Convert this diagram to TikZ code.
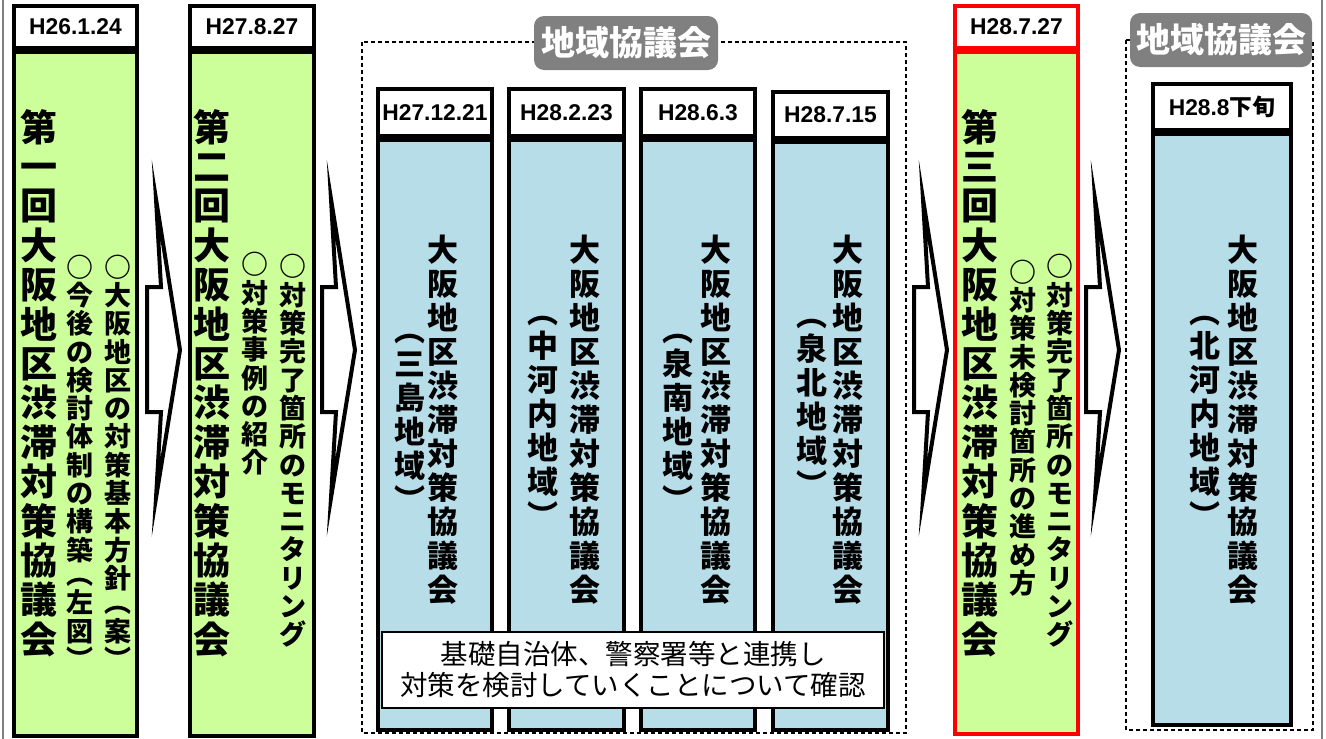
\documentclass[tikz,border=0pt]{standalone}
\usepackage{fontspec}
\setmainfont{Liberation Sans}
\newfontfamily\cjk{Noto Sans CJK JP}
\usetikzlibrary{positioning}

\definecolor{meetgreen}{RGB}{204,255,153}
\definecolor{areablue}{RGB}{183,221,232}
\definecolor{tagray}{RGB}{128,128,128}

% one character per line, for the upright columns
\makeatletter
\newcommand\tate[1]{\tate@a#1\relax}
\def\tate@a#1{#1\tate@b}
\def\tate@b#1{\ifx\relax#1\else\\#1\expandafter\tate@b\fi}
\makeatother

\tikzset{
  datebox/.style={draw, line width=4, fill=white, anchor=north, inner sep=0,
    font=\bfseries\fontsize{22.8}{24}\selectfont},
  greenbody/.style={draw, line width=4, fill=meetgreen, anchor=north},
  bluebody/.style={draw, line width=4, fill=areablue, anchor=north},
  bigtitle/.style={align=center, inner sep=0, font=\cjk\bfseries\fontsize{37}{39.4}\selectfont},
  subcol/.style={align=center, inner sep=0, font=\cjk\bfseries\fontsize{27}{28.3}\selectfont},
  areacol/.style={align=center, inner sep=0, font=\cjk\bfseries\fontsize{31}{34}\selectfont},
  areatag/.style={fill=tagray, rounded corners=10, text=white, inner sep=0,
    minimum height=54, font=\cjk\bfseries\fontsize{34}{36}\selectfont},
  bigarrow/.pic={
    \draw[line width=4, fill=white, miter limit=25] (0,287) -- (14,287) -- (9,199) -- (33,350)
      -- (9,498) -- (14,412) -- (0,412) -- cycle;
  }
}

\begin{document}
\begin{tikzpicture}[x=1pt, y=-1pt]
  \useasboundingbox (0,0) rectangle (1326,739);
  \draw[gray, line width=1.5] (3,0) -- (3,739);
  \draw[gray, line width=1.5] (1322,0) -- (1322,739);

  % the three meetings
  \node[datebox, minimum width=123, minimum height=42] (d1) at (75.5,4) {H26.1.24};
  \node[greenbody, minimum width=123, minimum height=684] (m1) at (d1.south) {};
  \node[datebox, minimum width=124, minimum height=42] (d2) at (252,4) {H27.8.27};
  \node[greenbody, minimum width=124, minimum height=684] (m2) at (d2.south) {};
  \node[datebox, draw=red, minimum width=123, minimum height=42] (d3) at (1016.5,4) {H28.7.27};
  \node[greenbody, draw=red, minimum width=123, minimum height=682] (m3) at (d3.south) {};

  \node[bigtitle] (t1) at (39,383) {\tate{第一回大阪地区渋滞対策協議会}};
  \node[subcol] (s1a) at (118,462) {\tate{○大阪地区の対策基本方針}\\[-4pt]\tate{︵案︶}};
  \node[subcol] (s1b) at (80,462) {\tate{○今後の検討体制の構築}\\[-4pt]\tate{︵左図︶}};
  \node[bigtitle] (t2) at (212,383) {\tate{第二回大阪地区渋滞対策協議会}};
  \node[subcol] (s2a) at (293,451) {\tate{○対策完了箇所のモニタリング}};
  \node[subcol] (s2b) at (255,364) {\tate{○対策事例の紹介}};
  \node[bigtitle] (t3) at (980,383) {\tate{第三回大阪地区渋滞対策協議会}};
  \node[subcol] (s3a) at (1060,451) {\tate{○対策完了箇所のモニタリング}};
  \node[subcol] (s3b) at (1023,428) {\tate{○対策未検討箇所の進め方}};

  % area meetings
  \draw[line width=1.5, dash pattern=on 4 off 3] (362,42) rectangle (906,733);
  \draw[line width=1.5, dash pattern=on 4 off 3] (1126,40) rectangle (1313,730);
  \node[areatag, minimum width=184] (g1) at (626,43) {地域協議会};
  \node[areatag, minimum width=182] (g2) at (1221,40) {地域協議会};

  \node[datebox, minimum width=114, minimum height=47] (da) at (435,87) {H27.12.21};
  \node[bluebody, minimum width=114, minimum height=590] (ma) at (da.south) {};
  \node[datebox, minimum width=115, minimum height=47] (db) at (566.5,87) {H28.2.23};
  \node[bluebody, minimum width=115, minimum height=590] (mb) at (db.south) {};
  \node[datebox, minimum width=114, minimum height=47] (dc) at (698,87) {H28.6.3};
  \node[bluebody, minimum width=114, minimum height=590] (mc) at (dc.south) {};
  \node[datebox, minimum width=115, minimum height=46] (dd) at (830.5,90) {H28.7.15};
  \node[bluebody, minimum width=115, minimum height=588] (md) at (dd.south) {};
  \node[datebox, minimum width=138, minimum height=46] (de) at (1222,82) {H28.8{\cjk 下旬}};
  \node[bluebody, minimum width=138, minimum height=591] (me) at (de.south) {};

  \node[areacol] (ta) at (443,420) {\tate{大阪地区渋滞対策協議会}};
  \node[areacol] (sa) at (410,423) {\tate{︵三島地域︶}};
  \node[areacol] (tb) at (585,420) {\tate{大阪地区渋滞対策協議会}};
  \node[areacol] (sb) at (543,422) {\tate{︵中河内地域︶}};
  \node[areacol] (tc) at (716,420) {\tate{大阪地区渋滞対策協議会}};
  \node[areacol] (sc) at (678,423) {\tate{︵泉南地域︶}};
  \node[areacol] (td) at (848,420) {\tate{大阪地区渋滞対策協議会}};
  \node[areacol] (sd) at (812,408) {\tate{︵泉北地域︶}};
  \node[areacol] (te) at (1243,420) {\tate{大阪地区渋滞対策協議会}};
  \node[areacol] (se) at (1205,422) {\tate{︵北河内地域︶}};

  \node[draw, line width=2.5, fill=white, minimum width=502, minimum height=76, inner sep=0,
    align=center, font=\cjk\fontsize{27.5}{31}\selectfont] (note) at (633,670)
    {基礎自治体、警察署等と連携し\\対策を検討していくことについて確認};

  % arrows between the steps
  \pic at (147,0) {bigarrow};
  \pic at (322,0) {bigarrow};
  \pic at (914,0) {bigarrow};
  \pic at (1086,0) {bigarrow};
\end{tikzpicture}
\end{document}
